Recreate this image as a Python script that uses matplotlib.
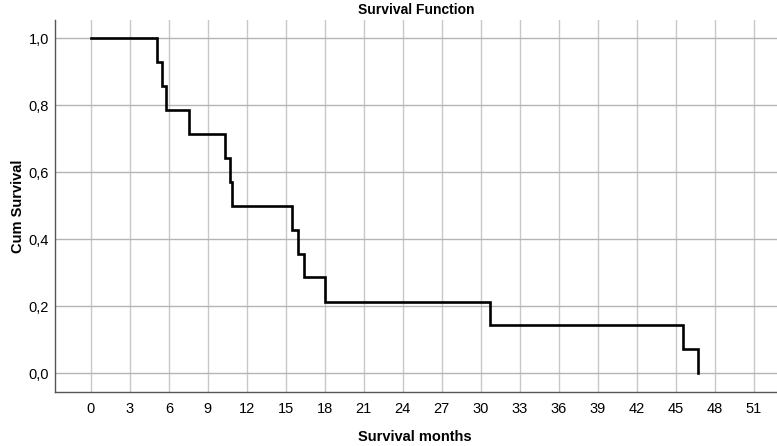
import matplotlib
matplotlib.use("Agg")
import matplotlib.pyplot as plt
from matplotlib.ticker import FuncFormatter

# event times (months) and cumulative survival after each event
times = [0, 5.1, 5.45, 5.75, 7.55, 10.3, 10.7, 10.85, 15.5, 15.95, 16.4, 18.0, 30.7, 45.6, 46.7]
surv = [1.0, 0.929, 0.857, 0.786, 0.714, 0.643, 0.571, 0.5, 0.429, 0.357, 0.286, 0.214, 0.143, 0.071, 0.0]

x_ticks = list(range(0, 52, 3))
y_ticks = [0.0, 0.2, 0.4, 0.6, 0.8, 1.0]

plt.rcParams['font.family'] = ['Liberation Sans', 'DejaVu Sans']

fig = plt.figure(figsize=(7.77, 4.46), dpi=100)
ax = fig.add_axes([55 / 777, 1 - 392 / 446, 722 / 777, 372 / 446])

# step curve: value holds until next event, then drops
xs, ys = [times[0]], [surv[0]]
for t, s in zip(times[1:], surv[1:]):
    xs += [t, t]
    ys += [ys[-1], s]
ax.plot(xs, ys, color='black', linewidth=1.9, solid_joinstyle='miter', zorder=3)

ax.set_xlim(-2.77, 52.8)
ax.set_ylim(-0.056, 1.055)
ax.set_xticks(x_ticks)
ax.set_yticks(y_ticks)
ax.yaxis.set_major_formatter(FuncFormatter(lambda v, p: f"{v:.1f}".replace('.', ',')))
ax.tick_params(length=0, labelsize=10.5)
ax.tick_params(axis='y', pad=4.5)
ax.tick_params(axis='x', pad=7)
ax.grid(axis='x', color='#c8c8c8', linewidth=1.0)
ax.grid(axis='y', color='#b4b4b4', linewidth=1.0)
ax.set_axisbelow(True)
for side in ['top', 'right']:
    ax.spines[side].set_visible(False)
for side in ['left', 'bottom']:
    ax.spines[side].set_color('#555555')
    ax.spines[side].set_linewidth(1.0)

ax.set_title("Survival Function", fontsize=10, fontweight='bold', pad=4)
ax.set_xlabel("Survival months", fontsize=10.5, fontweight='bold', va='center')
ax.xaxis.set_label_coords(0.5 + (415 - 416) / 722, (392 - 437) / 372)
ax.set_ylabel("Cum Survival", fontsize=10.5, fontweight='bold', va='center', ha='center')
ax.yaxis.set_label_coords((18 - 55) / 722, 0.5)

fig.savefig("out.png", dpi=100)
